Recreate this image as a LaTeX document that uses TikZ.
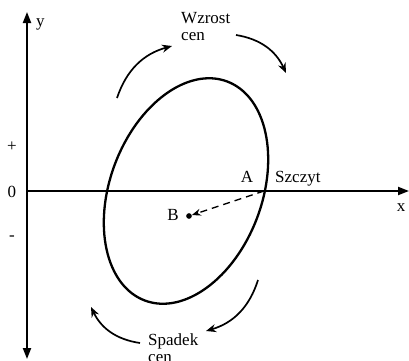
\documentclass[tikz,border=0pt]{standalone}
\usepackage{fontspec}
\setmainfont{Liberation Serif}
\usetikzlibrary{arrows.meta}
\begin{document}
\begin{tikzpicture}[x=1pt,y=1pt,
  axis/.style={line width=2pt},
  curve/.style={line width=2.3pt},
  turn/.style={line width=1.7pt,-{Stealth[length=10pt,width=8pt]},bend left=28},
  lbl/.style={font=\fontsize{17}{19}\selectfont,inner sep=0pt}]
\useasboundingbox (0,0) rectangle (409,360);
% axes
\coordinate (Ybot) at (27,1);
\coordinate (Ytop) at (27,348);
\coordinate (Xl) at (27,169);
\coordinate (Xr) at (409,169);
\draw[axis,{Triangle[length=11pt,width=8pt]}-{Triangle[length=11pt,width=8pt]}] (Ybot) -- (Ytop);
\draw[axis,-{Triangle[length=11pt,width=8pt]}] (Xl) -- (Xr);
% ellipse
\draw[curve,rotate around={69.4:(186,169)}] (186,169) ellipse [x radius=117, y radius=76];
% labels
\node[lbl,anchor=base west] (ly) at (36,334) {y};
\node[lbl] (lx) at (401,152) {x};
\node[lbl] (l0) at (12,168) {0};
\node[lbl] (lp) at (12,213) {+};
\node[lbl] (lm) at (12,122) {-};
\node[lbl,anchor=base] (lA) at (247,178) {A};
\node[lbl,anchor=base west] (lS) at (275,178) {Szczyt};
\node[lbl] (lB) at (173,145) {B};
\node[lbl,anchor=base west] (lW1) at (181,337) {Wzrost};
\node[lbl,anchor=base west] (lW2) at (181,320) {cen};
\node[lbl,anchor=base west] (lSp1) at (148,15) {Spadek};
\node[lbl,anchor=base west] (lSp2) at (148,-2) {cen};
% point B and dashed move
\node[circle,fill,inner sep=2pt] (Bd) at (189,144) {};
\coordinate (P) at (264,169);
\draw[line width=1.4pt,dash pattern=on 7pt off 5pt,-{Stealth[length=9pt,width=7pt]}] (P) -- (Bd);
% rotation arrows
\coordinate (a1s) at (117,262); \coordinate (a1e) at (172,314);
\coordinate (a2s) at (236,325); \coordinate (a2e) at (286,287);
\coordinate (a3s) at (258,80);  \coordinate (a3e) at (206,29);
\coordinate (a4s) at (140,17);  \coordinate (a4e) at (91,53);
\draw[turn] (a1s) to (a1e);
\draw[turn] (a2s) to (a2e);
\draw[turn] (a3s) to (a3e);
\draw[turn] (a4s) to (a4e);
\end{tikzpicture}
\end{document}
